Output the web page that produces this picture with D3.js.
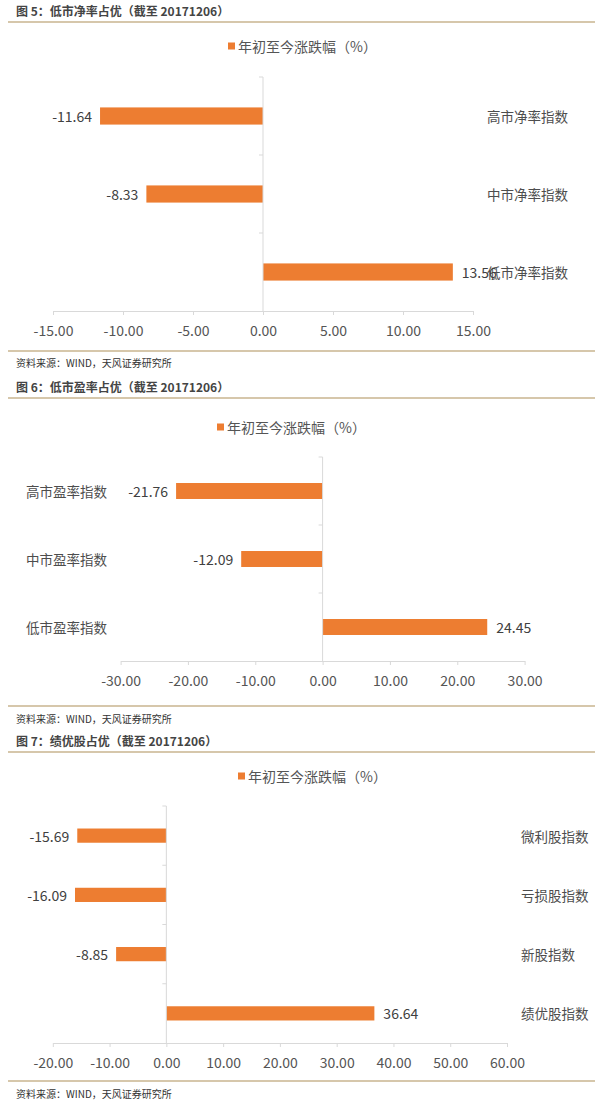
<!DOCTYPE html>
<html>
<head>
<meta charset="utf-8">
<script src="https://cdn.jsdelivr.net/npm/d3@7"></script>
<style>
  body { margin: 0; background: #fff; }
  svg { display: block; font-family: "Noto Sans CJK SC", "Noto Sans", sans-serif; }
</style>
</head>
<body>
<div id="chart"></div>
<script>
// 图5: 市净率分组
const pbCategories = ['高市净率指数', '中市净率指数', '低市净率指数'];
const pbValues = [-11.64, -8.33, 13.56];
const pbTicks = [-15, -10, -5, 0, 5, 10, 15];

// 图6: 市盈率分组
const peCategories = ['高市盈率指数', '中市盈率指数', '低市盈率指数'];
const peValues = [-21.76, -12.09, 24.45];
const peTicks = [-30, -20, -10, 0, 10, 20, 30];

// 图7: 绩优股
const qualityCategories = ['微利股指数', '亏损股指数', '新股指数', '绩优股指数'];
const qualityValues = [-15.69, -16.09, -8.85, 36.64];
const qualityTicks = [-20, -10, 0, 10, 20, 30, 40, 50, 60];

const titles = [
  '图 5：低市净率占优（截至 20171206）',
  '图 6：低市盈率占优（截至 20171206）',
  '图 7：绩优股占优（截至 20171206）'
];
const legendLabel = '年初至今涨跌幅（%）';
const sourceLabel = '资料来源：WIND，天风证券研究所';

const W = 600;
const H = 1102;
const barColor = '#ed7d31';
const axisColor = '#d9d9d9';
const textColor = '#555';
const ruleColor = '#c9b48f';

// layout of each panel (pixels)
const panels = [
  {
    title: titles[0], cats: pbCategories, values: pbValues, ticks: pbTicks,
    titleY: 10, ruleY: 22, legendX: 228, legendY: 46,
    xRange: [53, 473], yRange: [77, 311], pad: 0.78,
    labelX: 487, bottomRuleY: 351, sourceY: 362
  },
  {
    title: titles[1], cats: peCategories, values: peValues, ticks: peTicks,
    titleY: 386, ruleY: 398, legendX: 217, legendY: 427,
    xRange: [120.6, 524.6], yRange: [457, 661], pad: 0.765,
    labelX: 26, bottomRuleY: 706, sourceY: 718
  },
  {
    title: titles[2], cats: qualityCategories, values: qualityValues, ticks: qualityTicks,
    titleY: 740, ruleY: 752, legendX: 238, legendY: 776,
    xRange: [52.8, 507], yRange: [806, 1043], pad: 0.76,
    labelX: 521, bottomRuleY: 1081, sourceY: 1093
  }
];

const svg = d3.select('#chart')
  .append('svg')
  .attr('width', W)
  .attr('height', H);

function drawPanel(p) {
  const g = svg.append('g');

  // title + rule
  g.append('text')
    .attr('x', 16)
    .attr('y', p.titleY)
    .attr('dominant-baseline', 'central')
    .style('font-size', '12px')
    .style('font-weight', 'bold')
    .attr('fill', '#444')
    .text(p.title);

  g.append('line')
    .attr('x1', 8).attr('x2', 595)
    .attr('y1', p.ruleY).attr('y2', p.ruleY)
    .attr('stroke', ruleColor)
    .attr('stroke-width', 1.5);

  // legend
  g.append('rect')
    .attr('x', p.legendX)
    .attr('y', p.legendY - 3.5)
    .attr('width', 7)
    .attr('height', 7)
    .attr('fill', barColor);

  g.append('text')
    .attr('x', p.legendX + 10)
    .attr('y', p.legendY)
    .attr('dominant-baseline', 'central')
    .style('font-size', '14px')
    .attr('fill', textColor)
    .text(legendLabel);

  const x = d3.scaleLinear()
    .domain(d3.extent(p.ticks))
    .range(p.xRange);

  const y = d3.scaleBand()
    .domain(p.cats)
    .range(p.yRange)
    .paddingInner(p.pad)
    .paddingOuter(p.pad / 2);

  const rows = p.cats.map((c, i) => ({ cat: c, value: p.values[i] }));

  // bars
  g.selectAll('.bar')
    .data(rows)
    .enter()
    .append('rect')
    .attr('class', 'bar')
    .attr('x', d => x(Math.min(0, d.value)))
    .attr('width', d => Math.abs(x(d.value) - x(0)))
    .attr('y', d => y(d.cat))
    .attr('height', y.bandwidth())
    .attr('fill', barColor);

  // x axis
  const xAxis = g.append('g')
    .attr('transform', `translate(0,${p.yRange[1]})`)
    .call(d3.axisBottom(x)
      .tickValues(p.ticks)
      .tickSize(4)
      .tickSizeOuter(0)
      .tickFormat(d => d.toFixed(2)));

  xAxis.attr('font-family', null).attr('font-size', null);
  xAxis.select('.domain').attr('stroke', axisColor);
  xAxis.selectAll('.tick line').attr('stroke', axisColor);
  xAxis.selectAll('.tick text')
    .attr('y', 19)
    .attr('dy', null)
    .attr('dominant-baseline', 'central')
    .attr('fill', textColor)
    .style('font-size', '14px');

  // category axis at zero, ticks on band boundaries
  g.append('line')
    .attr('x1', x(0)).attr('x2', x(0))
    .attr('y1', p.yRange[0]).attr('y2', p.yRange[1])
    .attr('stroke', axisColor);

  const bounds = d3.range(p.cats.length).map(i => p.yRange[0] + i * y.step());
  g.selectAll('.ytick')
    .data(bounds)
    .enter()
    .append('line')
    .attr('class', 'ytick')
    .attr('x1', x(0) - 4).attr('x2', x(0))
    .attr('y1', d => d).attr('y2', d => d)
    .attr('stroke', axisColor);

  // category labels
  g.selectAll('.cat')
    .data(rows)
    .enter()
    .append('text')
    .attr('class', 'cat')
    .attr('x', p.labelX)
    .attr('y', d => y(d.cat) + y.bandwidth() / 2)
    .attr('dominant-baseline', 'central')
    .style('font-size', '13.5px')
    .attr('fill', '#4d4d4d')
    .text(d => d.cat);

  // value labels
  g.selectAll('.val')
    .data(rows)
    .enter()
    .append('text')
    .attr('class', 'val')
    .attr('x', d => d.value < 0 ? x(d.value) - 8 : x(d.value) + 9)
    .attr('y', d => y(d.cat) + y.bandwidth() / 2)
    .attr('text-anchor', d => d.value < 0 ? 'end' : 'start')
    .attr('dominant-baseline', 'central')
    .style('font-size', '14px')
    .attr('fill', '#404040')
    .text(d => d.value.toFixed(2));

  // source
  g.append('line')
    .attr('x1', 8).attr('x2', 595)
    .attr('y1', p.bottomRuleY).attr('y2', p.bottomRuleY)
    .attr('stroke', ruleColor)
    .attr('stroke-width', 1.5);

  g.append('text')
    .attr('x', 16)
    .attr('y', p.sourceY)
    .attr('dominant-baseline', 'central')
    .style('font-size', '10px')
    .attr('fill', '#333')
    .text(sourceLabel);
}

panels.forEach(drawPanel);
</script>
</body>
</html>
